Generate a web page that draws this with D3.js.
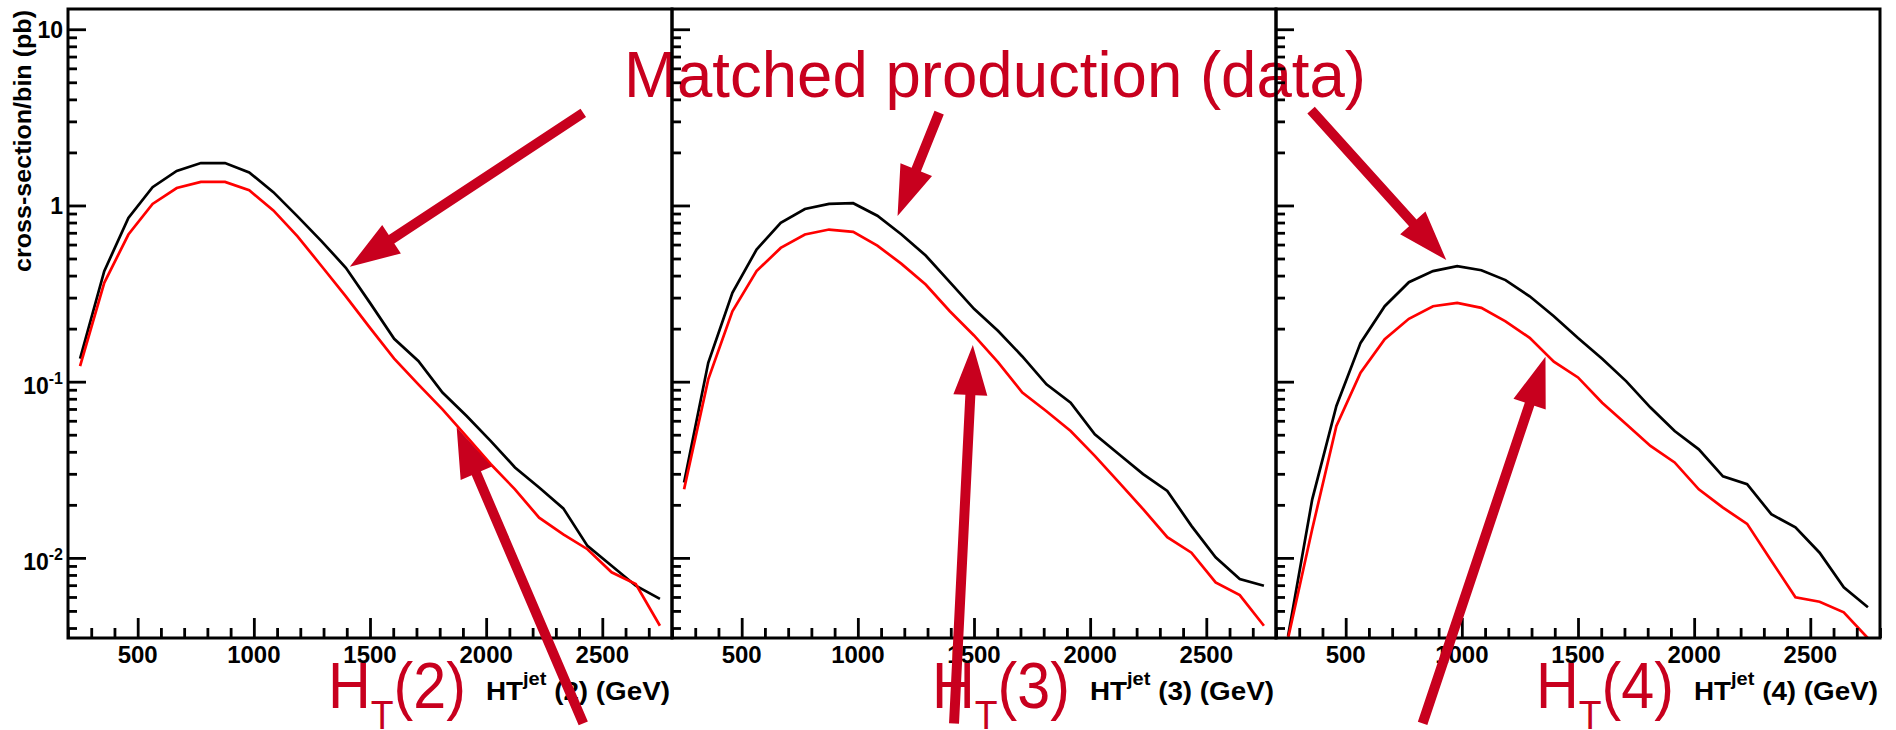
<!DOCTYPE html>
<html>
<head>
<meta charset="utf-8">
<script src="https://cdn.jsdelivr.net/npm/d3@7"></script>
<style>
body { margin: 0; background: #fff; overflow: hidden; }
text { font-family: "Liberation Sans", Arial, Helvetica, sans-serif; }
</style>
</head>
<body>
<div id="chart"></div>
<script>
var width = 1896, height = 730;
var frameLeft = 68, frameTop = 9, frameBottom = 638, panelW = 604;
var annotColor = '#c8001e';

// 25 bins of 104 GeV between 200 and 2800, values at bin centres
var binCenters = [252, 356, 460, 564, 668, 772, 876, 980, 1084, 1188, 1292, 1396, 1500,
  1604, 1708, 1812, 1916, 2020, 2124, 2228, 2332, 2436, 2540, 2644, 2748];

var panelNames = ['2', '3', '4'];

// black = matched production (data), red = HT(n)
var matched2 = [0.135, 0.424, 0.849, 1.27, 1.57, 1.74, 1.74, 1.54, 1.19, 0.867, 0.626, 0.443, 0.280,
  0.175, 0.131, 0.0867, 0.0638, 0.046, 0.0326, 0.0251, 0.0191, 0.0117, 0.00902, 0.00695, 0.00585];
var ht2 = [0.1226, 0.364, 0.684, 1.02, 1.256, 1.36, 1.36, 1.22, 0.938, 0.668, 0.452, 0.305, 0.202,
  0.135, 0.0966, 0.0697, 0.0488, 0.034, 0.0245, 0.0169, 0.0136, 0.0112, 0.00828, 0.00711, 0.00412];

var matched3 = [0.0268, 0.128, 0.319, 0.562, 0.796, 0.955, 1.02, 1.03, 0.875, 0.684, 0.52, 0.367, 0.259,
  0.194, 0.139, 0.0966, 0.076, 0.0503, 0.0387, 0.0299, 0.024, 0.0152, 0.01007, 0.00759, 0.00695];
var ht3 = [0.0245, 0.103, 0.251, 0.424, 0.574, 0.684, 0.73, 0.708, 0.592, 0.466, 0.356, 0.251, 0.183,
  0.1286, 0.0867, 0.068, 0.0525, 0.0379, 0.0268, 0.0189, 0.0131, 0.0107, 0.00726, 0.00615, 0.00412];

var matched4 = [0.0036, 0.0215, 0.0728, 0.166, 0.268, 0.367, 0.424, 0.452, 0.429, 0.377, 0.305, 0.235, 0.177,
  0.135, 0.1004, 0.0713, 0.0525, 0.0413, 0.029, 0.0262, 0.0177, 0.0149, 0.0107, 0.0068, 0.00525];
var ht4 = [0.0035, 0.0146, 0.056, 0.1125, 0.174, 0.2275, 0.268, 0.280, 0.2625, 0.220, 0.1775, 0.130, 0.1057,
  0.076, 0.0573, 0.0432, 0.0348, 0.0245, 0.0193, 0.0156, 0.00964, 0.00597, 0.00564, 0.00491, 0.0035];

var matchedSeries = [matched2, matched3, matched4];
var htSeries = [ht2, ht3, ht4];

var xTickLabels = [500, 1000, 1500, 2000, 2500];
var yTickVals = [10, 1, 0.1, 0.01];
var yTickBase = ['10', '1', '10', '10'];
var yTickExp = ['', '', '-1', '-2'];

// arrows: panel, tail [GeV, pb], tip [GeV, pb]
var arrows = [
  [0, [2418, 3.35], [1413, 0.449]],
  [0, [2418, 0.00115], [1873, 0.0551]],
  [1, [1350, 3.36], [1171, 0.871]],
  [1, [1414, 0.00115], [1495, 0.1614]],
  [2, [351, 3.48], [933, 0.490]],
  [2, [831, 0.00115], [1360, 0.1386]]
];

var svg = d3.select('#chart').append('svg')
  .attr('width', width)
  .attr('height', height);

var y = d3.scaleLog()
  .domain([0.00351, 13.03])
  .range([frameBottom, frameTop]);

function isMajor(d) {
  var l = Math.log10(d);
  return Math.abs(l - Math.round(l)) < 1e-6;
}

var xScales = panelNames.map(function(n, i) {
  var left = frameLeft + i * panelW;
  return d3.scaleLinear().domain([200, 2800]).range([left, left + panelW]);
});

// big title sits under the frames
svg.append('text')
  .attr('x', 624)
  .attr('y', 97)
  .attr('font-size', 65)
  .attr('fill', annotColor)
  .attr('textLength', 742)
  .attr('lengthAdjust', 'spacingAndGlyphs')
  .text('Matched production (data)');

panelNames.forEach(function(name, i) {
  var x = xScales[i];
  var left = x.range()[0], right = x.range()[1];
  var g = svg.append('g');

  g.append('clipPath').attr('id', 'clip' + i)
    .append('rect')
    .attr('x', left).attr('y', frameTop)
    .attr('width', panelW).attr('height', frameBottom - frameTop);

  var line = d3.line()
    .x(function(d, j) { return x(binCenters[j]); })
    .y(function(d) { return y(d); });

  g.append('path')
    .datum(matchedSeries[i])
    .attr('clip-path', 'url(#clip' + i + ')')
    .attr('fill', 'none')
    .attr('stroke', '#000')
    .attr('stroke-width', 2.7)
    .attr('d', line);

  g.append('path')
    .datum(htSeries[i])
    .attr('clip-path', 'url(#clip' + i + ')')
    .attr('fill', 'none')
    .attr('stroke', '#ff0000')
    .attr('stroke-width', 2.7)
    .attr('d', line);

  // y ticks point into the pad
  var ya = g.append('g')
    .attr('transform', 'translate(' + left + ',0)')
    .call(d3.axisRight(y).tickValues(y.ticks()).tickSize(18).tickFormat(''));
  ya.select('.domain').remove();
  ya.selectAll('.tick line')
    .attr('x2', function(d) { return isMajor(d) ? 18 : 9; })
    .attr('stroke-width', 2.8);

  var xa = g.append('g')
    .attr('transform', 'translate(0,' + frameBottom + ')')
    .call(d3.axisTop(x).tickValues(d3.range(200, 2801, 100)).tickSize(20).tickFormat(''));
  xa.select('.domain').remove();
  xa.selectAll('.tick line')
    .attr('y2', function(d) { return d % 500 === 0 ? -20 : -10; })
    .attr('stroke-width', 2.8);

  g.selectAll('.xlab')
    .data(xTickLabels)
    .enter().append('text')
    .attr('x', function(d) { return x(d); })
    .attr('y', 663)
    .attr('text-anchor', 'middle')
    .attr('font-size', 24)
    .attr('font-weight', 'bold')
    .text(function(d) { return d; });

  g.append('rect')
    .attr('x', left).attr('y', frameTop)
    .attr('width', panelW).attr('height', frameBottom - frameTop)
    .attr('fill', 'none')
    .attr('stroke', '#000')
    .attr('stroke-width', 3);

  // axis title HT^jet (n) (GeV)
  var t = g.append('text')
    .attr('x', right - 2)
    .attr('y', 700)
    .attr('text-anchor', 'end')
    .attr('font-size', 25)
    .attr('font-weight', 'bold')
    .attr('textLength', 184)
    .attr('lengthAdjust', 'spacingAndGlyphs');
  t.append('tspan').text('HT');
  t.append('tspan').attr('font-size', 18).attr('dy', -15).text('jet');
  t.append('tspan').attr('dy', 15).text(' (' + name + ') (GeV)');
});

// y labels, first pad only
var yl = svg.append('g').selectAll('text')
  .data(yTickVals)
  .enter().append('text')
  .attr('x', 63)
  .attr('y', function(d, i) { return y(d) + (yTickExp[i] ? 12 : 9); })
  .attr('text-anchor', 'end')
  .attr('font-size', 23)
  .attr('font-weight', 'bold');
yl.append('tspan').text(function(d, i) { return yTickBase[i]; });
yl.append('tspan')
  .attr('font-size', 16)
  .attr('dy', function(d, i) { return yTickExp[i] ? -10 : 0; })
  .text(function(d, i) { return yTickExp[i]; });

svg.append('text')
  .attr('transform', 'translate(31,10) rotate(-90)')
  .attr('text-anchor', 'end')
  .attr('font-size', 24)
  .attr('font-weight', 'bold')
  .attr('textLength', 262)
  .attr('lengthAdjust', 'spacingAndGlyphs')
  .text('cross-section/bin (pb)');

// arrows
function arrowPath(x1, y1, x2, y2) {
  var sw = 5, hw = 17, headLen = 50;
  var dx = x2 - x1, dy = y2 - y1, len = Math.sqrt(dx * dx + dy * dy);
  var ux = dx / len, uy = dy / len, nx = -uy, ny = ux;
  var bx = x2 - ux * headLen, by = y2 - uy * headLen;
  var pts = [
    [x1 + nx * sw, y1 + ny * sw], [bx + nx * sw, by + ny * sw], [bx + nx * hw, by + ny * hw],
    [x2, y2], [bx - nx * hw, by - ny * hw], [bx - nx * sw, by - ny * sw], [x1 - nx * sw, y1 - ny * sw]
  ];
  return 'M' + pts.join('L') + 'Z';
}

svg.append('g').selectAll('path')
  .data(arrows)
  .enter().append('path')
  .attr('fill', annotColor)
  .attr('d', function(a) {
    var x = xScales[a[0]];
    return arrowPath(x(a[1][0]), y(a[1][1]), x(a[2][0]), y(a[2][1]));
  });

// H_T(n) labels
panelNames.forEach(function(name, i) {
  var left = xScales[i].range()[0];
  var ht = svg.append('text')
    .attr('x', left + 260)
    .attr('y', 708)
    .attr('fill', annotColor)
    .attr('font-size', 65)
    .attr('textLength', 138)
    .attr('lengthAdjust', 'spacingAndGlyphs');
  ht.append('tspan').text('H');
  ht.append('tspan').attr('font-size', 41).attr('dy', 21).text('T');
  ht.append('tspan').attr('dy', -21).text('(' + name + ')');
});
</script>
</body>
</html>
